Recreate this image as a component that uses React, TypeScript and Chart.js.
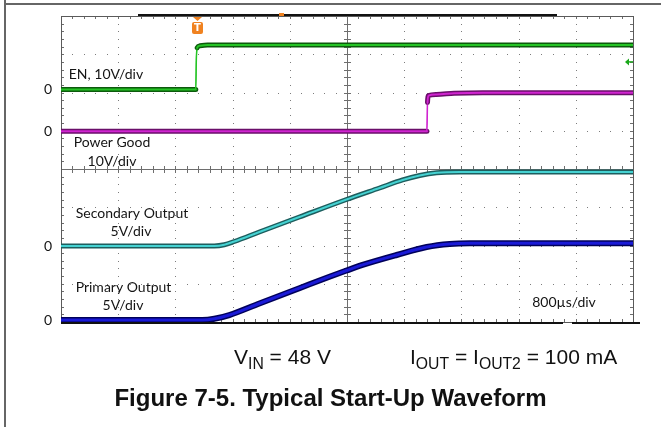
import { useEffect, useRef } from "react";
import { Chart, registerables } from "chart.js";

Chart.register(...registerables);

// Horizontal: 800 µs per division, 10 divisions. Vertical: 8 divisions.
const TIME_PER_DIV = 800;
const H_DIVS = 10;
const V_DIVS = 8;

// Channel scale (V/div) and the 0 V marker position (divisions from the bottom)
const EN_V_PER_DIV = 10;
const PG_V_PER_DIV = 10;
const SEC_V_PER_DIV = 5;
const PRI_V_PER_DIV = 5;
const EN_ZERO_DIV = 6.08;
const PG_ZERO_DIV = 4.99;
const SEC_ZERO_DIV = 1.987;
const PRI_ZERO_DIV = 0.052;

// EN (µs, V)
const enTime = [0, 1885, 1893, 1905, 1940, 2050, 8000];
const enVolt = [0, 0, 8.0, 10.9, 11.4, 11.6, 11.6];

// Power Good (µs, V)
const pgTime = [0, 5118, 5126, 5140, 5250, 5500, 5900, 8000];
const pgVolt = [0, 0, 7.5, 9.3, 9.6, 9.9, 10.05, 10.05];

// Secondary output (µs, V)
const secTime = [0, 2144, 2284, 2424, 2774, 3334, 3993, 4455, 4778, 5016, 5254, 5576, 8000];
const secVolt = [0, 0, 0.16, 0.59, 1.83, 3.79, 6.08, 7.58, 8.63, 9.21, 9.57, 9.67, 9.67];

// Primary output (µs, V)
const priTime = [0, 1975, 2144, 2354, 2774, 3334, 3755, 3993, 4217, 4694, 5114, 5436, 5716, 8000];
const priVolt = [0, 0, 0.16, 0.65, 2.16, 4.16, 5.66, 6.47, 7.2, 8.5, 9.54, 9.94, 10.03, 10.03];

// Trigger: EN edge, level on EN
const TRIGGER_TIME = 1900;
const TRIGGER_LEVEL = 7.2;
const H_POSITION_TIME = 3080;

const channels = [
  { name: "EN", time: enTime, volt: enVolt, vdiv: EN_V_PER_DIV, zero: EN_ZERO_DIV, core: "#25c425", edge: "#0c5a0c", width: 5 },
  { name: "Power Good", time: pgTime, volt: pgVolt, vdiv: PG_V_PER_DIV, zero: PG_ZERO_DIV, core: "#d024d0", edge: "#6a0e6a", width: 5 },
  { name: "Secondary Output", time: secTime, volt: secVolt, vdiv: SEC_V_PER_DIV, zero: SEC_ZERO_DIV, core: "#45d2d2", edge: "#1d5e5e", width: 5 },
  { name: "Primary Output", time: priTime, volt: priVolt, vdiv: PRI_V_PER_DIV, zero: PRI_ZERO_DIV, core: "#1a1ad6", edge: "#00005a", width: 6 },
];

// Text annotations placed in (µs, div) coordinates
const annotations = [
  { text: "EN, 10V/div", t: 629, d: 6.476 },
  { text: "Power Good", t: 713, d: 4.688 },
  { text: "10V/div", t: 713, d: 4.209 },
  { text: "Secondary Output", t: 993, d: 2.842 },
  { text: "5V/div", t: 979, d: 2.379 },
  { text: "Primary Output", t: 874, d: 0.897 },
  { text: "5V/div", t: 867, d: 0.426 },
  { text: "800µs/div", t: 7035, d: 0.505 },
];

const LABEL_FONT = "14px Lato, 'Open Sans', sans-serif";

const scopeGrid = {
  id: "scopeGrid",
  beforeDatasetsDraw(chart: any) {
    const { ctx, chartArea, scales } = chart;
    const { left, top, right, bottom } = chartArea;
    const xs = scales.x;
    const ys = scales.y;
    const px = (t: number) => Math.round(xs.getPixelForValue(t));
    const py = (d: number) => Math.round(ys.getPixelForValue(d));
    ctx.save();

    // dotted division lines
    ctx.fillStyle = "#7c7c7c";
    for (let i = 1; i < H_DIVS; i++) {
      if (i === H_DIVS / 2) continue;
      const x = px(i * TIME_PER_DIV);
      for (let j = 0; j <= V_DIVS * 5; j++) ctx.fillRect(x, py(j / 5), 1, 1);
    }
    for (let j = 1; j < V_DIVS; j++) {
      if (j === V_DIVS / 2) continue;
      const y = py(j);
      for (let i = 0; i <= H_DIVS * 5; i++) ctx.fillRect(px((i * TIME_PER_DIV) / 5), y, 1, 1);
    }

    // centre cross with minor ticks
    const cx = px((H_DIVS / 2) * TIME_PER_DIV);
    const cy = py(V_DIVS / 2);
    ctx.strokeStyle = "#6e6e6e";
    ctx.lineWidth = 1;
    ctx.beginPath();
    ctx.moveTo(cx + 0.5, top);
    ctx.lineTo(cx + 0.5, bottom);
    ctx.moveTo(left, cy + 0.5);
    ctx.lineTo(right, cy + 0.5);
    for (let j = 1; j < V_DIVS * 5; j++) {
      const y = py(j / 5) + 0.5;
      ctx.moveTo(cx - 3, y);
      ctx.lineTo(cx + 4, y);
      ctx.moveTo(left, y);
      ctx.lineTo(left + 3, y);
      ctx.moveTo(right, y);
      ctx.lineTo(right - 3, y);
    }
    for (let i = 1; i < H_DIVS * 5; i++) {
      const x = px((i * TIME_PER_DIV) / 5) + 0.5;
      ctx.moveTo(x, cy - 3);
      ctx.lineTo(x, cy + 4);
      ctx.moveTo(x, top);
      ctx.lineTo(x, top + 3);
      ctx.moveTo(x, bottom);
      ctx.lineTo(x, bottom - 3);
    }
    ctx.stroke();

    // graticule border
    ctx.strokeStyle = "#5a5a5a";
    ctx.strokeRect(left + 0.5, top + 0.5, right - left, bottom - top);

    // record-length bar on top, and the bar along the bottom edge
    ctx.strokeStyle = "#111";
    ctx.lineWidth = 2;
    ctx.beginPath();
    ctx.moveTo(138, top - 1);
    ctx.lineTo(557, top - 1);
    ctx.moveTo(left, bottom + 1);
    ctx.lineTo(563, bottom + 1);
    ctx.moveTo(572, bottom + 1);
    ctx.lineTo(right + 7, bottom + 1);
    ctx.stroke();
    ctx.restore();
  },
  afterDatasetsDraw(chart: any) {
    const { ctx, chartArea, scales } = chart;
    const xs = scales.x;
    const ys = scales.y;
    ctx.save();

    // channel annotations
    ctx.font = LABEL_FONT;
    ctx.fillStyle = "#141414";
    ctx.textAlign = "center";
    ctx.textBaseline = "middle";
    annotations.forEach((a) => {
      ctx.fillText(a.text, xs.getPixelForValue(a.t), ys.getPixelForValue(a.d));
    });

    // 0 V markers to the left of the graticule
    channels.forEach((c) => {
      ctx.fillText("0", chartArea.left - 13, ys.getPixelForValue(c.zero) + 0.5);
    });

    // trigger position marker
    const tx = Math.round(xs.getPixelForValue(TRIGGER_TIME));
    const top = chartArea.top;
    ctx.fillStyle = "#f08220";
    ctx.beginPath();
    ctx.moveTo(tx - 4, top + 1);
    ctx.lineTo(tx + 5, top + 1);
    ctx.lineTo(tx + 0.5, top + 5);
    ctx.closePath();
    ctx.fill();
    ctx.beginPath();
    ctx.roundRect(tx - 5, top + 6, 11, 12, 2);
    ctx.fill();
    ctx.fillStyle = "#fff";
    ctx.font = "bold 10px 'DejaVu Sans', sans-serif";
    ctx.fillText("T", tx + 0.5, top + 12.5);

    // horizontal position marker
    const hx = Math.round(xs.getPixelForValue(H_POSITION_TIME));
    ctx.fillStyle = "#f08220";
    ctx.fillRect(hx - 2, top - 3, 5, 3);

    // trigger level arrow on the EN channel
    const ly = ys.getPixelForValue(EN_ZERO_DIV + TRIGGER_LEVEL / EN_V_PER_DIV);
    const rx = chartArea.right;
    ctx.strokeStyle = "#1aa81a";
    ctx.fillStyle = "#1aa81a";
    ctx.lineWidth = 1.5;
    ctx.beginPath();
    ctx.moveTo(rx - 5, ly);
    ctx.lineTo(rx, ly);
    ctx.stroke();
    ctx.beginPath();
    ctx.moveTo(rx - 8, ly);
    ctx.lineTo(rx - 4, ly - 3.5);
    ctx.lineTo(rx - 4, ly + 3.5);
    ctx.closePath();
    ctx.fill();
    ctx.restore();
  },
};

function buildPoints(c: (typeof channels)[number]) {
  return c.time.map((t, i) => ({ x: t, y: c.zero + c.volt[i] / c.vdiv }));
}

function isSteep(ctx: any) {
  const dx = Math.abs(ctx.p1.x - ctx.p0.x);
  const dy = Math.abs(ctx.p1.y - ctx.p0.y);
  return dy > 6 * dx + 2;
}

export default function App() {
  const canvasRef = useRef<HTMLCanvasElement | null>(null);

  useEffect(() => {
    if (!canvasRef.current) return;
    const datasets: any[] = [];
    channels.forEach((c) => {
      const pts = buildPoints(c);
      datasets.push({
        label: c.name + " edge",
        data: pts,
        borderColor: c.edge,
        borderWidth: c.width,
        pointRadius: 0,
        cubicInterpolationMode: "monotone",
        order: 2,
        segment: { borderWidth: (s: any) => (isSteep(s) ? 1.5 : c.width), borderColor: (s: any) => (isSteep(s) ? c.core : c.edge) },
      });
      datasets.push({
        label: c.name,
        data: pts,
        borderColor: c.core,
        borderWidth: c.width - 3,
        pointRadius: 0,
        cubicInterpolationMode: "monotone",
        order: 1,
        segment: { borderWidth: (s: any) => (isSteep(s) ? 0.8 : c.width - 3) },
      });
    });

    const chart = new Chart(canvasRef.current, {
      type: "line",
      data: { datasets },
      options: {
        animation: false,
        responsive: false,
        layout: { padding: { left: 61, top: 16, right: 28, bottom: 105 } },
        scales: {
          x: { type: "linear", min: 0, max: H_DIVS * TIME_PER_DIV, display: false },
          y: { type: "linear", min: 0, max: V_DIVS, display: false },
        },
        plugins: { legend: { display: false }, tooltip: { enabled: false } },
        elements: { line: { borderJoinStyle: "round", borderCapStyle: "round" } },
      },
      plugins: [scopeGrid],
    });
    return () => chart.destroy();
  }, []);

  const captionFont = "'Liberation Sans', Arial, sans-serif";
  const sub: React.CSSProperties = { fontSize: "0.75em", verticalAlign: "-0.3em", lineHeight: 0 };

  return (
    <div style={{ position: "absolute", left: 0, top: 0, width: 661, height: 427, background: "#fff", overflow: "hidden" }}>
      <div style={{ position: "absolute", left: 4, top: 0, width: 2, height: 427, background: "#666" }} />
      <div style={{ position: "absolute", left: 4, top: 3, width: 657, height: 2, background: "#666" }} />
      <canvas ref={canvasRef} width={661} height={427} style={{ position: "absolute", left: 0, top: 0, display: "block" }} />
      <div style={{ position: "absolute", left: 234, top: 344, fontFamily: captionFont, fontSize: 21, color: "#111", whiteSpace: "nowrap", lineHeight: "26px" }}>
        V<span style={sub}>IN</span> = 48 V
      </div>
      <div style={{ position: "absolute", left: 410, top: 344, fontFamily: captionFont, fontSize: 21, color: "#111", whiteSpace: "nowrap", lineHeight: "26px" }}>
        I<span style={sub}>OUT</span> = I<span style={sub}>OUT2</span> = 100 mA
      </div>
      <div style={{ position: "absolute", left: 0, width: 661, top: 383, textAlign: "center", fontFamily: captionFont, fontWeight: "bold", fontSize: 24, color: "#111", whiteSpace: "nowrap", lineHeight: "29px" }}>
        Figure 7-5. Typical Start-Up Waveform
      </div>
    </div>
  );
}
